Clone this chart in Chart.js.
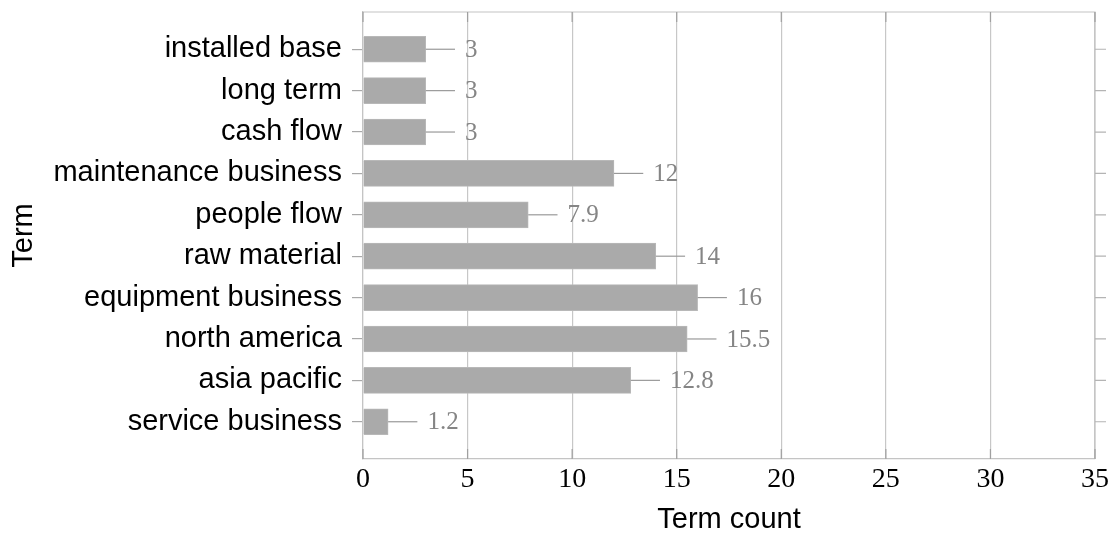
<!DOCTYPE html>
<html>
<head>
<meta charset="utf-8">
<script src="https://cdn.jsdelivr.net/npm/chart.js@4"></script>
<style>
  html, body { margin: 0; padding: 0; background: #fff; }
  #wrap { width: 1119px; height: 534px; }
</style>
</head>
<body>
<div id="wrap"><canvas id="termChart" width="1119" height="534"></canvas></div>
<script>
// values, top to bottom
const categories = ['installed base', 'long term', 'cash flow', 'maintenance business', 'people flow',
                    'raw material', 'equipment business', 'north america', 'asia pacific', 'service business'];
const termCounts = [3, 3, 3, 12, 7.9, 14, 16, 15.5, 12.8, 1.2];
const termErrors = [1.4, 1.4, 1.4, 1.4, 1.4, 1.4, 1.4, 1.4, 1.4, 1.4];
const xTickValues = [0, 5, 10, 15, 20, 25, 30, 35];

const SANS = "'Liberation Sans', Arial, sans-serif";
const SERIF = "'Liberation Serif', 'DejaVu Serif', serif";

// error whiskers + value labels to the right of each bar
const barLabels = {
    id: 'barLabels',
    afterDatasetsDraw(chart) {
        const ctx = chart.ctx;
        const xs = chart.scales.x;
        const meta = chart.getDatasetMeta(0);
        ctx.save();
        meta.data.forEach((bar, i) => {
            const xEnd = xs.getPixelForValue(termCounts[i] + termErrors[i]);
            ctx.strokeStyle = '#999';
            ctx.lineWidth = 1.2;
            ctx.beginPath();
            ctx.moveTo(bar.x, bar.y);
            ctx.lineTo(xEnd, bar.y);
            ctx.stroke();
            ctx.fillStyle = '#858585';
            ctx.font = '25px ' + SERIF;
            ctx.textAlign = 'left';
            ctx.textBaseline = 'middle';
            ctx.fillText(String(termCounts[i]), xEnd + 10, bar.y + 1);
        });
        ctx.restore();
    }
};

// top/right frame and the extra tick marks pgfplots draws
const frame = {
    id: 'frame',
    afterDraw(chart) {
        const ctx = chart.ctx;
        const a = chart.chartArea;
        const xs = chart.scales.x;
        const ys = chart.scales.y;
        ctx.save();
        ctx.strokeStyle = '#c4c4c4';
        ctx.lineWidth = 1.2;
        ctx.beginPath();
        ctx.moveTo(a.left, a.top);
        ctx.lineTo(a.right, a.top);
        ctx.lineTo(a.right, a.bottom);
        ctx.stroke();

        ctx.strokeStyle = '#a0a0a0';
        ctx.beginPath();
        xTickValues.forEach(v => {
            const px = xs.getPixelForValue(v);
            ctx.moveTo(px, a.bottom);
            ctx.lineTo(px, a.bottom - 10);
            ctx.moveTo(px, a.top);
            ctx.lineTo(px, a.top + 10);
        });
        ctx.stroke();

        ctx.strokeStyle = '#b4b4b4';
        ctx.beginPath();
        categories.forEach((c, i) => {
            const py = ys.getPixelForValue(i);
            ctx.moveTo(a.right, py);
            ctx.lineTo(a.right + 11, py);
        });
        ctx.stroke();
        ctx.restore();
    }
};

new Chart(document.getElementById('termChart'), {
    type: 'bar',
    data: {
        datasets: [{
            label: 'Term count',
            data: termCounts.map((v, i) => ({ x: v, y: i })),
            backgroundColor: '#aaaaaa',
            borderColor: '#b8b8b8',
            borderWidth: 1,
            barThickness: 26
        }]
    },
    options: {
        indexAxis: 'y',
        responsive: false,
        animation: false,
        layout: { padding: { top: 12, right: 24, bottom: 0, left: 0 } },
        plugins: {
            legend: { display: false },
            tooltip: { enabled: false }
        },
        scales: {
            x: {
                type: 'linear',
                min: 0,
                max: 35,
                z: 1,
                afterBuildTicks: (scale) => { scale.ticks = xTickValues.map(v => ({ value: v })); },
                afterFit: (scale) => {
                    scale.height = 75;
                    scale.paddingLeft = 0;
                    scale.paddingRight = 0;
                },
                grid: { color: 'rgba(0,0,0,0.22)', lineWidth: 1.2, drawTicks: false },
                border: { color: '#c4c4c4', width: 1.2 },
                ticks: { color: '#000', font: { family: SERIF, size: 28 }, padding: 4, maxRotation: 0 },
                title: { display: true, text: 'Term count', color: '#000',
                         font: { family: SANS, size: 29, lineHeight: 1.0 }, padding: { top: 0, bottom: 0 } }
            },
            y: {
                type: 'linear',
                min: -0.9,
                max: 9.9,
                reverse: true,
                offset: false,
                afterBuildTicks: (scale) => { scale.ticks = categories.map((c, i) => ({ value: i })); },
                afterFit: (scale) => {
                    scale.width = 363;
                    scale.paddingTop = 0;
                    scale.paddingBottom = 0;
                },
                grid: { offset: false, drawOnChartArea: false, drawTicks: true, tickLength: 11, color: '#a8a8a8', lineWidth: 1.2 },
                border: { color: '#c4c4c4', width: 1.2 },
                ticks: {
                    color: '#000',
                    font: { family: SANS, size: 29 },
                    padding: 10,
                    autoSkip: false,
                    callback: (v) => categories[v] || ''
                },
                title: { display: true, text: 'Term', color: '#000',
                         font: { family: SANS, size: 29 }, padding: { top: 7, bottom: 0 } }
            }
        }
    },
    plugins: [barLabels, frame]
});
</script>
</body>
</html>
